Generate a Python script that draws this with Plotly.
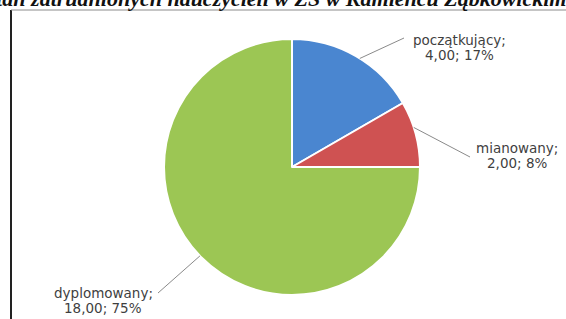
import math
import plotly.graph_objects as go

W, H = 566, 319

# ---- data ----
categories = ["początkujący", "mianowany", "dyplomowany"]
values = [4.00, 2.00, 18.00]
percents = ["17%", "8%", "75%"]
colors = ["#4a86d0", "#cf5252", "#9cc654"]
title_text = "ra i stan zatrudnionych nauczycieli w ZS w Kamieńcu Ząbkowickim"

# ---- geometry (pixels) ----
cx, cy, r = 292, 167, 128

def px(x):
    return x / W

def py(y):
    return 1 - y / H

fig = go.Figure()
fig.add_trace(go.Pie(
    labels=categories,
    values=values,
    sort=False,
    direction="clockwise",
    rotation=0,
    textinfo="none",
    hoverinfo="label+value+percent",
    marker=dict(colors=colors, line=dict(color="white", width=2)),
    domain=dict(x=[px(cx - r), px(cx + r)], y=[py(cy + r), py(cy - r)]),
    showlegend=False,
))

# label positions (centre of first line) and leader-line text ends, pixels
label_pos = [(459, 40), (517, 148), (103, 293)]
line_gap = 15
line_txt_end = [(404, 38), (470, 157), (158, 293)]
edge_angles = [32, 72, 226]

label_font = dict(family="DejaVu Sans", size=13.5, color="#3f3f3f")

annotations = []
shapes = []
for i, (cat, v) in enumerate(zip(categories, values)):
    ang = math.radians(edge_angles[i])
    ex = cx + r * math.sin(ang)
    ey = cy - r * math.cos(ang)
    tx, ty = line_txt_end[i]
    shapes.append(dict(type="line", xref="paper", yref="paper",
                       x0=px(ex), y0=py(ey), x1=px(tx), y1=py(ty),
                       line=dict(color="#8a8a8a", width=1)))
    lx, ly = label_pos[i]
    lines = [f"{cat};", f"{v:.2f}".replace(".", ",") + f"; {percents[i]}"]
    for k, t in enumerate(lines):
        annotations.append(dict(
            x=px(lx), y=py(ly + k * line_gap), xref="paper", yref="paper",
            xanchor="center", yanchor="middle",
            text=t, showarrow=False, align="center",
            font=label_font,
        ))

# frame lines
shapes.append(dict(type="line", xref="paper", yref="paper",
                   x0=px(11), y0=py(10), x1=px(11), y1=py(330),
                   line=dict(color="#222222", width=2)))
shapes.append(dict(type="line", xref="paper", yref="paper",
                   x0=px(11), y0=py(10), x1=px(580), y1=py(10),
                   line=dict(color="#8c8c8c", width=1)))

# clipped title at the very top
annotations.append(dict(
    x=px(-51), y=py(13), xref="paper", yref="paper",
    xanchor="left", yanchor="bottom",
    text=f"<b><i>{title_text}</i></b>", showarrow=False,
    font=dict(family="Liberation Serif", size=22, color="#111111"),
))

fig.update_layout(
    width=W, height=H,
    margin=dict(l=0, r=0, t=0, b=0),
    paper_bgcolor="white",
    plot_bgcolor="white",
    shapes=shapes,
    annotations=annotations,
)

fig.write_html("out.html", config={"displayModeBar": False},
               post_script="document.body.style.margin='0';document.body.style.overflow='hidden';")
